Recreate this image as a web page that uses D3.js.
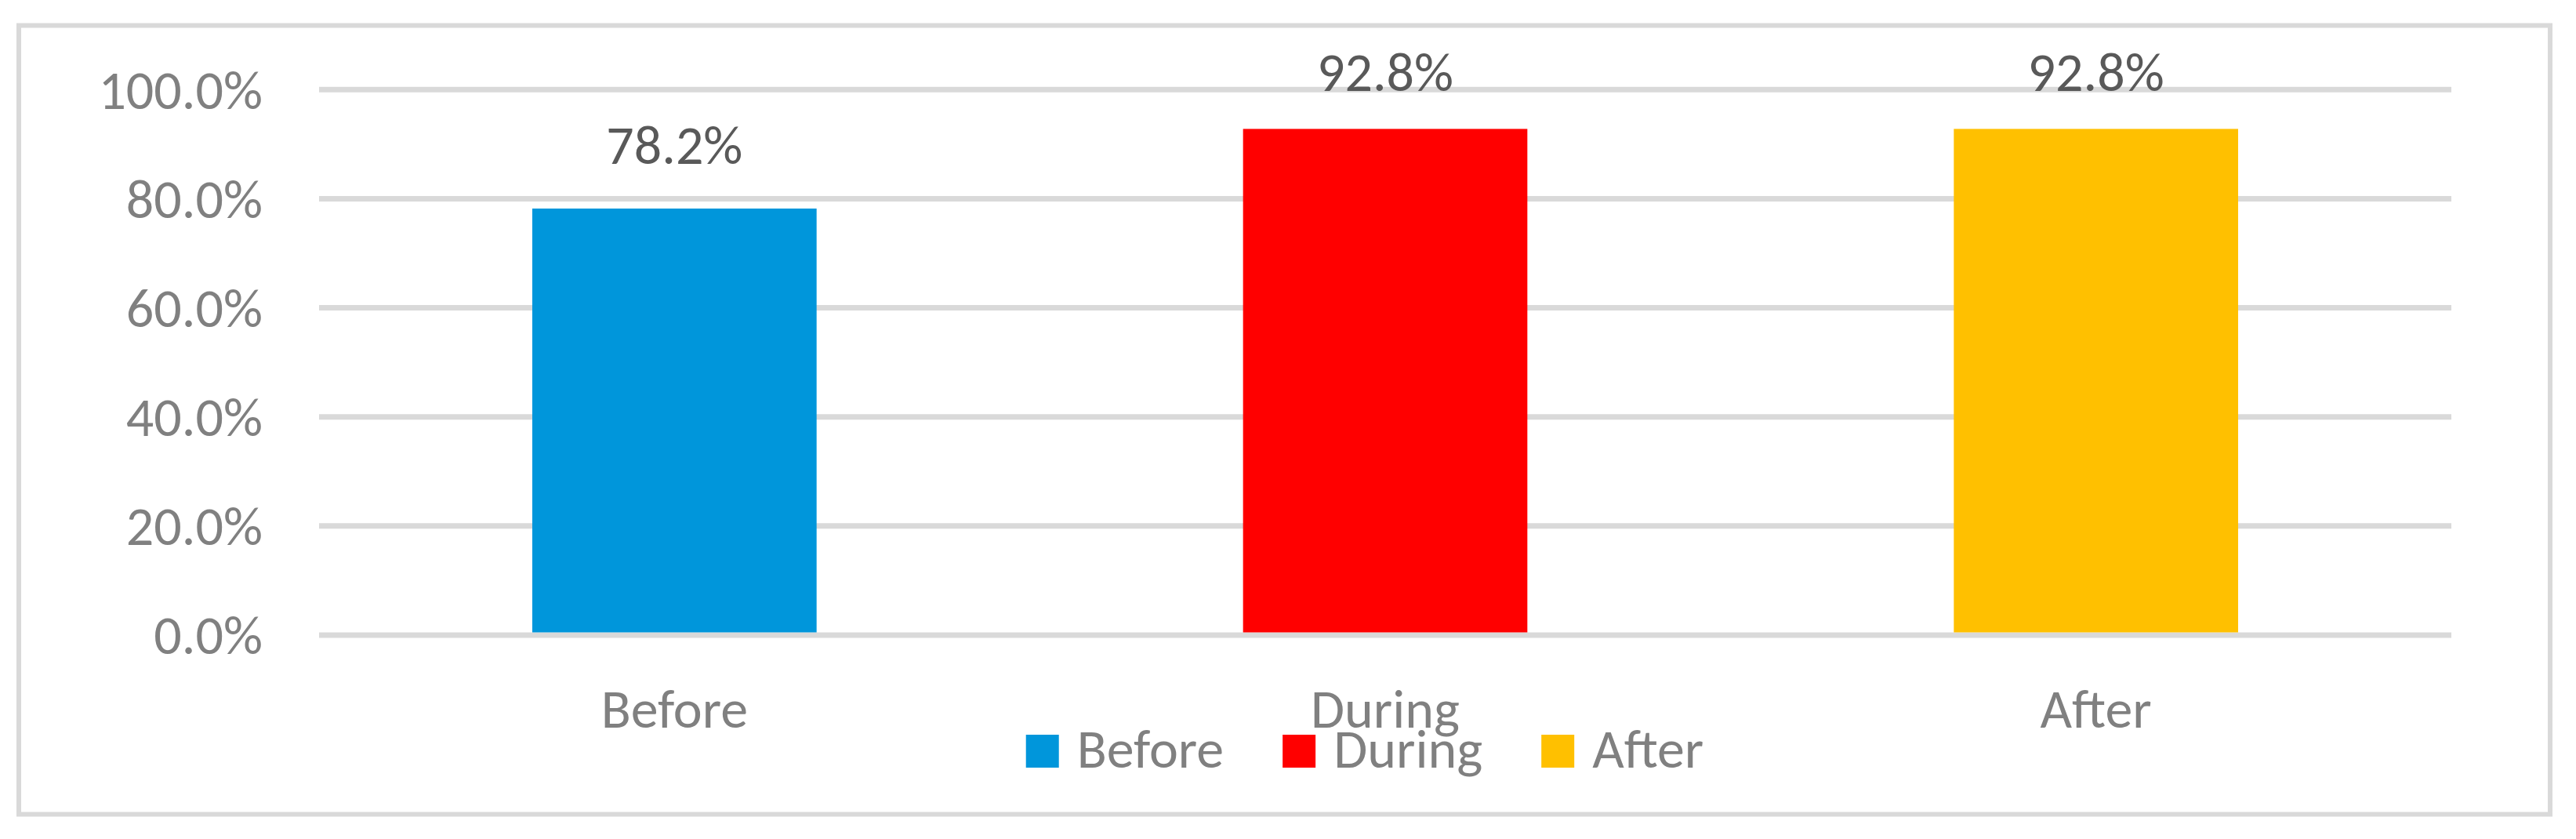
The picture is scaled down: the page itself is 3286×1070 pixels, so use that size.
<!DOCTYPE html>
<html><head><meta charset="utf-8">
<script src="https://cdn.jsdelivr.net/npm/d3@7"></script>
<style>html,body{margin:0;padding:0;background:#fff;}svg{display:block;}</style>
</head><body>
<script>
const categories = ["Before", "During", "After"];
const values = [0.782, 0.928, 0.928];
const colors = ["#0096DB", "#FF0000", "#FFC000"];
const yTicks = [0, 0.2, 0.4, 0.6, 0.8, 1.0];

const W = 3286, H = 1070;
const FONT = "Calibri, Carlito, Lato, sans-serif";
const svg = d3.select("body").append("svg").attr("width", W).attr("height", H);
svg.append("rect").attr("width", W).attr("height", H).attr("fill", "#fff");

// chart frame
svg.append("rect").attr("x", 24).attr("y", 32.5).attr("width", 3229).attr("height", 1006)
  .attr("fill", "#fff").attr("stroke", "#D9D9D9").attr("stroke-width", 6);

const plot = {left: 407, right: 3127, top: 114.3, bottom: 810};
const x = d3.scaleBand().domain(categories).range([plot.left, plot.right]).paddingInner(0.6).paddingOuter(0.3);
const y = d3.scaleLinear().domain([0, 1]).range([plot.bottom, plot.top]);

// gridlines
svg.append("g").selectAll("line").data(yTicks).join("line")
  .attr("x1", plot.left).attr("x2", plot.right)
  .attr("y1", d => y(d)).attr("y2", d => y(d))
  .attr("stroke", "#D9D9D9").attr("stroke-width", 7);

// y axis labels
const yAxis = d3.axisLeft(y).tickValues(yTicks).tickFormat(d3.format(".1%")).tickSize(0).tickPadding(72);
const gy = svg.append("g").attr("transform", `translate(${plot.left},0)`).call(yAxis);
gy.select(".domain").remove();
gy.selectAll("text").attr("font-family", FONT).attr("font-size", 70).attr("fill", "#808080").attr("dy", "0.34em");

// bars
svg.append("g").selectAll("rect").data(values).join("rect")
  .attr("x", (d, i) => x(categories[i]))
  .attr("width", x.bandwidth())
  .attr("y", d => y(d))
  .attr("height", d => y(0) - 3.5 - y(d))
  .attr("fill", (d, i) => colors[i]);

// value labels
svg.append("g").selectAll("text").data(values).join("text")
  .attr("x", (d, i) => x(categories[i]) + x.bandwidth() / 2)
  .attr("y", d => Math.max(y(d) - 57, 116))
  .attr("text-anchor", "middle")
  .attr("font-family", FONT).attr("font-size", 70).attr("fill", "#595959")
  .text(d => d3.format(".1%")(d));

// x axis labels
const xAxis = d3.axisBottom(x).tickSize(0).tickPadding(0);
const gx = svg.append("g").attr("transform", `translate(0,${928})`).call(xAxis);
gx.select(".domain").remove();
gx.selectAll("text").attr("font-family", FONT).attr("font-size", 70).attr("fill", "#808080").attr("dy", 0);

// legend
const leg = svg.append("g");
const items = leg.selectAll("g").data(categories).join("g");
items.append("rect").attr("width", 42).attr("height", 42).attr("y", 937).attr("fill", (d, i) => colors[i]);
items.append("text").attr("x", 65).attr("y", 979)
  .attr("font-family", FONT).attr("font-size", 70).attr("fill", "#808080").text(d => d);
let cx = 0;
const widths = [];
items.each(function() { widths.push(this.querySelector("text").getComputedTextLength()); });
const offsets = [];
widths.forEach((w, i) => { offsets.push(cx); cx += 65 + w + 75; });
const total = cx - 75;
const start = 1741 - total / 2;
items.attr("transform", (d, i) => `translate(${start + offsets[i]},0)`);
</script>
</body></html>
